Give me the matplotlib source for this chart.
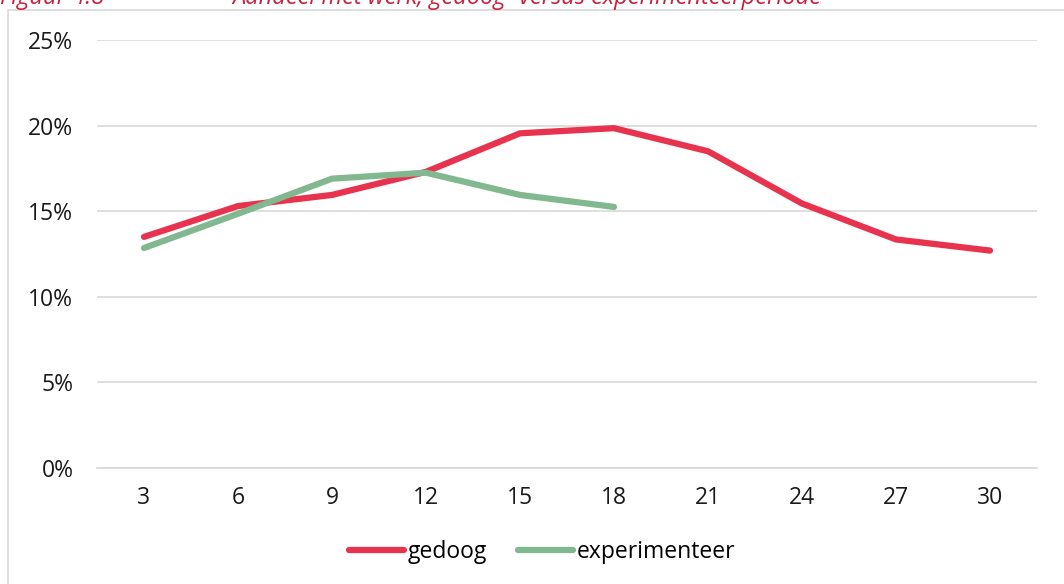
import matplotlib.pyplot as plt
from matplotlib.patches import Rectangle
from matplotlib.ticker import PercentFormatter

# months since start
maanden = ['3', '6', '9', '12', '15', '18', '21', '24', '27', '30']
gedoog = [13.5, 15.3, 15.95, 17.3, 19.55, 19.85, 18.5, 15.45, 13.35, 12.7]
experimenteer = [12.85, 14.85, 16.9, 17.25, 15.95, 15.25]

plt.rcParams['font.family'] = ['Open Sans', 'DejaVu Sans']

fig = plt.figure(figsize=(10.64, 5.84), dpi=100)
# light frame around the chart area
fig.patches.append(Rectangle((8 / 1064, -0.1), 1.1, (584 - 10) / 584 + 0.1,
                             transform=fig.transFigure, fill=False,
                             edgecolor='#D9D9D9', linewidth=1.2))

# title, partly cut off at the top like the source
fig.text(0.0, 1 - 4 / 584, 'Figuur 4.8', color='#C8203F', fontsize=17,
         style='italic', va='baseline', ha='left')
fig.text(232 / 1064, 1 - 4 / 584,
         'Aandeel met werk; gedoog- versus experimenteerperiode',
         color='#C8203F', fontsize=17, style='italic', va='baseline', ha='left')

ax = fig.add_axes([97 / 1064, 1 - 468 / 584, (1037 - 97) / 1064, (468 - 40) / 584])
x = range(len(maanden))
ax.plot(x, gedoog, color='#E8334E', lw=4.5, solid_capstyle='round',
        solid_joinstyle='round', label='gedoog')
ax.plot(range(len(experimenteer)), experimenteer, color='#82B890', lw=4.5,
        solid_capstyle='round', solid_joinstyle='round', label='experimenteer')

ax.set_xlim(-0.5, len(maanden) - 0.5)
ax.set_ylim(0, 25)
ax.set_yticks([0, 5, 10, 15, 20, 25])
ax.yaxis.set_major_formatter(PercentFormatter(decimals=0))
ax.set_xticks(list(x))
ax.set_xticklabels(maanden)
ax.grid(axis='y', color='#D9D9D9', lw=1.2)
ax.set_axisbelow(True)
for s in ['top', 'right', 'left']:
    ax.spines[s].set_visible(False)
ax.spines['bottom'].set_color('#D9D9D9')
ax.spines['bottom'].set_linewidth(1.2)
ax.tick_params(length=0, labelsize=16.5, colors='#1a1a1a')
ax.tick_params(axis='x', pad=13)
ax.tick_params(axis='y', pad=17)

fig.legend(loc='center', bbox_to_anchor=(542 / 1064, 1 - 552 / 584), ncol=2,
           frameon=False, fontsize=16.5, handlelength=2.4, handletextpad=0.17,
           columnspacing=1.35)

fig.savefig('out.png', dpi=100)
